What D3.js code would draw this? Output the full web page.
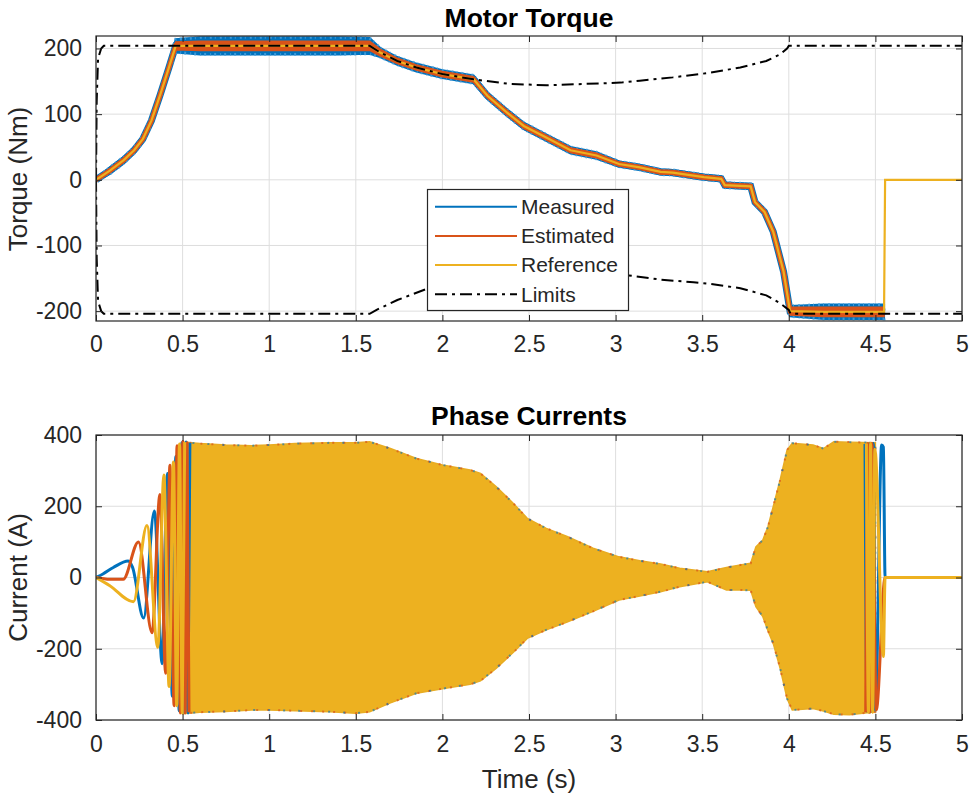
<!DOCTYPE html>
<html><head><meta charset="utf-8">
<script src="https://cdn.jsdelivr.net/npm/d3@7"></script>
<style>
html,body{margin:0;padding:0;background:#fff;}
svg{display:block;font-family:"Liberation Sans",Arial,Helvetica,sans-serif;}
</style></head><body>
<svg id="chart" width="972" height="796"></svg>
<script>
// ---------------- data ----------------
const xTickValues = [0,0.5,1,1.5,2,2.5,3,3.5,4,4.5,5];
const xTickLabels = ["0","0.5","1","1.5","2","2.5","3","3.5","4","4.5","5"];
const torqueTickValues = [-200,-100,0,100,200];
const torqueTickLabels = ["-200","-100","0","100","200"];
const currentTickValues = [-400,-200,0,200,400];
const currentTickLabels = ["-400","-200","0","200","400"];
const seriesNames = ["Measured","Estimated","Reference","Limits"];
const seriesColors = ["#0072BD","#D95319","#EDB120","#000000"];

// Motor torque (Nm)
const torqueTime      = [0,0.08,0.16,0.22,0.27,0.32,0.37,0.42,0.46,0.6,0.8,1.0,1.2,1.4,1.58,1.64,1.74,1.85,2.0,2.18,2.26,2.37,2.47,2.58,2.74,2.89,3.02,3.14,3.26,3.33,3.51,3.61,3.63,3.78,3.805,3.86,3.91,3.97,4.007,4.2,4.4,4.55,4.556,5];
const torqueReference = [0,14,30,45,62,90,129,170,204,204,204,204,204,204,204,194,181,171,161,153,128,103,82,67,45,37,24,19,12,11,4,1.5,-8,-10,-34,-49,-79,-140,-200,-201,-201,-201,0,0];
const estimatedSpread = [1.5,3,3,3,3,3,3,3,6,7,7,7,7,7,7,5,4,4,4,4,3.5,3.5,3.5,3.5,3.5,3.5,3,3,3,3,3,3,3,3,3,3,3,3,6,7,7,7,null,null];
const measuredSpread  = [2,5,5,5,5,5,5,5,10,13,13,13,13,13,12,7,6,6,6,6,5,5,5,5,5,5,4,4,4,4,4,4,4,4,4,4,4,4,8,11,11,11,null,null];
const upperLimitTime  = [0,0.004,0.012,0.03,0.045,1.58,1.64,1.74,1.85,2.0,2.18,2.39,2.6,2.82,3.03,3.14,3.33,3.53,3.72,3.87,3.95,3.99,4.0,5];
const upperLimit      = [0,120,185,200,204,204,194,181,171,161,153,146,144,146,148,151,156,162.5,171,181,191,200,204,204];
const lowerLimitTime  = [0,0.004,0.012,0.03,0.045,1.58,1.62,1.74,1.91,2.1,2.3,2.6,2.85,3.06,3.26,3.45,3.53,3.72,3.87,3.95,4.0,4.01,5];
const lowerLimit      = [0,-120,-185,-200,-204,-204,-198,-183,-166,-155,-148,-144,-144,-145,-152,-156,-158,-165,-176,-188,-198,-204,-204];

// Phase currents (A): envelope of the dense oscillation
const envelopeTime  = [0.47,0.5,0.6,0.75,0.9,1.0,1.15,1.35,1.5,1.58,1.7,1.85,2.0,2.16,2.22,2.31,2.41,2.49,2.6,2.72,2.87,3.02,3.14,3.26,3.37,3.53,3.64,3.72,3.78,3.81,3.85,3.88,3.91,3.95,3.99,4.02,4.14,4.2,4.26,4.35,4.5];
const envelopeUpper = [340,380,376,372,370,372,376,378,378,381,362,334,316,302,292,255,208,166,138,115,82,58,47,38,26,16,28,35,40,86,105,143,199,274,358,377,372,362,381,380,378];
const envelopeLower = [-350,-382,-378,-376,-372,-372,-374,-377,-381,-377,-352,-325,-312,-300,-290,-255,-210,-171,-147,-125,-95,-63,-52,-40,-26,-12,-35,-35,-36,-82,-110,-150,-185,-255,-340,-372,-368,-375,-384,-385,-377];

// individual phase traces (start-up and stop)
const phaseAStartTime = [0,0.04,0.1,0.186,0.21,0.275,0.337,0.382,0.412,0.441,0.461,0.48,0.495,0.508,0.52,0.531,0.542];
const phaseAStart     = [0,10,28,46,30,-114,187,-242,292,-333,340,-374,378,-378,380,-380,378];
const phaseBStartTime = [0,0.08,0.157,0.245,0.324,0.369,0.402,0.427,0.451,0.468,0.487,0.501,0.514,0.526,0.537];
const phaseBStart     = [0,-5,-5,100,-155,233,-269,315,-360,370,-380,382,-380,378,-378];
const phaseCStartTime = [0,0.08,0.216,0.294,0.357,0.392,0.422,0.447,0.466,0.482,0.498,0.512];
const phaseCStart     = [0,-23,-68,146,-196,288,-306,324,-360,375,-380,380];
const phaseAStopTime  = [4.44,4.452,4.464,4.476,4.488,4.5,4.536,4.546,4.556,5];
const phaseAStop      = [375,-375,375,-375,376,-372,372,366,0,0];
const phaseBStopTime  = [4.444,4.456,4.468,4.48,4.505,4.556,5];
const phaseBStop      = [-378,376,-378,376,-372,0,0];
const phaseCStopTime  = [4.448,4.46,4.472,4.484,4.497,4.546,4.556,5];
const phaseCStop      = [376,-378,376,-378,360,-222,0,0];

// ---------------- drawing ----------------
const svg = d3.select("#chart");
const TXT = "#262626";
const x = d3.scaleLinear().domain([0,5]).range([96,962]);
const yT = d3.scaleLinear().domain([-215,219]).range([321,36]);
const yC = d3.scaleLinear().domain([-400,400]).range([720,435]);
const zip = (t,v) => t.map((d,i)=>({t:d,v:v[i]}));

function frame(y, tickVals, id){
  const [y0,y1] = y.range();
  const g = svg.append("g");
  g.append("g").selectAll("line").data(xTickValues).join("line")
    .attr("x1",d=>x(d)).attr("x2",d=>x(d)).attr("y1",y1).attr("y2",y0)
    .attr("stroke","#dedede").attr("stroke-width",1);
  g.append("g").selectAll("line").data(tickVals).join("line")
    .attr("x1",96).attr("x2",962).attr("y1",d=>y(d)).attr("y2",d=>y(d))
    .attr("stroke","#dedede").attr("stroke-width",1);
  svg.append("clipPath").attr("id",id).append("rect")
    .attr("x",96).attr("y",y1).attr("width",866).attr("height",y0-y1);
  return svg.append("g").attr("clip-path",`url(#${id})`);
}
function axes(y, tickVals, tickLabels, pad){
  const [y0,y1] = y.range();
  const style = s => { s.select(".domain").remove();
    s.selectAll(".tick line").attr("stroke",TXT);
    s.selectAll("text").attr("fill",TXT).attr("font-size","23px")
      .attr("font-family",'"Liberation Sans",Arial,sans-serif'); };
  svg.append("g").attr("transform",`translate(0,${y0})`)
    .call(d3.axisBottom(x).tickValues(xTickValues).tickFormat((d,i)=>xTickLabels[i])
      .tickSizeInner(-6).tickSizeOuter(0).tickPadding(pad)).call(style);
  svg.append("g").attr("transform",`translate(0,${y1})`)
    .call(d3.axisTop(x).tickValues(xTickValues).tickFormat(()=>"")
      .tickSizeInner(-6).tickSizeOuter(0)).call(style);
  svg.append("g").attr("transform",`translate(96,0)`)
    .call(d3.axisLeft(y).tickValues(tickVals).tickFormat((d,i)=>tickLabels[i])
      .tickSizeInner(-6).tickSizeOuter(0).tickPadding(14)).call(style);
  svg.append("g").attr("transform",`translate(962,0)`)
    .call(d3.axisRight(y).tickValues(tickVals).tickFormat(()=>"")
      .tickSizeInner(-6).tickSizeOuter(0)).call(style);
  svg.append("rect").attr("x",96).attr("y",y1).attr("width",866).attr("height",y0-y1)
    .attr("fill","none").attr("stroke",TXT).attr("stroke-width",1.2);
}

// ---- top: Motor Torque ----
const topG = frame(yT, torqueTickValues, "clipTop");
const torqueData = torqueTime.map((t,i)=>({t, v:torqueReference[i], m:measuredSpread[i], e:estimatedSpread[i]}));
const band = key => d3.area().defined(d=>d[key]!=null).x(d=>x(d.t)).y0(d=>yT(d.v-d[key])).y1(d=>yT(d.v+d[key]));
const midLine = key => d3.line().defined(d=>d[key]!=null).x(d=>x(d.t)).y(d=>yT(d.v));
topG.append("path").datum(torqueData).attr("d",band("m")).attr("fill",seriesColors[0]).attr("stroke",seriesColors[0]).attr("stroke-width",2);
topG.append("path").datum(torqueData).attr("d",midLine("m")).attr("fill","none").attr("stroke",seriesColors[0]).attr("stroke-width",7);
// ragged edge of the noisy measurement
topG.append("path").datum(torqueData).attr("d",band("m")).attr("fill","none").attr("stroke","#4aa0dc")
  .attr("stroke-width",3).attr("stroke-dasharray","2,3,1,4").attr("opacity",0.8);
topG.append("path").datum(torqueData).attr("d",band("e")).attr("fill",seriesColors[1]).attr("stroke",seriesColors[1]).attr("stroke-width",1.5);
topG.append("path").datum(torqueData).attr("d",midLine("e")).attr("fill","none").attr("stroke",seriesColors[1]).attr("stroke-width",5);
topG.append("path").datum(torqueData).attr("d",d3.line().x(d=>x(d.t)).y(d=>yT(d.v)))
  .attr("fill","none").attr("stroke",seriesColors[2]).attr("stroke-width",2.2);
const limLine = d3.line().x(d=>x(d.t)).y(d=>yT(d.v));
[zip(upperLimitTime,upperLimit), zip(lowerLimitTime,lowerLimit)].forEach(dat=>{
  topG.append("path").datum(dat).attr("d",limLine).attr("fill","none")
    .attr("stroke","#000").attr("stroke-width",2).attr("stroke-dasharray","12,5,3,5");
});
axes(yT, torqueTickValues, torqueTickLabels, 15);

// ---- bottom: Phase Currents ----
const botG = frame(yC, currentTickValues, "clipBot");
const env = envelopeTime.map((t,i)=>({t, hi:envelopeUpper[i], lo:envelopeLower[i]}));
const envArea = d3.area().x(d=>x(d.t)).y0(d=>yC(d.lo)).y1(d=>yC(d.hi));
botG.append("path").datum(env).attr("d",envArea)
  .attr("fill","#EDB120").attr("stroke","#E8AC22").attr("stroke-width",1.5);
// speckled edges (blue / orange peaks peeking out)
botG.append("path").datum(env).attr("d",envArea).attr("fill","none")
  .attr("stroke",seriesColors[1]).attr("stroke-width",2).attr("stroke-dasharray","2,9").attr("opacity",0.7);
botG.append("path").datum(env).attr("d",envArea).attr("fill","none")
  .attr("stroke",seriesColors[0]).attr("stroke-width",2).attr("stroke-dasharray","2,13").attr("stroke-dashoffset",5).attr("opacity",0.6);
const phLine = d3.line().x(d=>x(d.t)).y(d=>yC(d.v)).curve(d3.curveMonotoneX);
const traces = [
  [phaseAStartTime,phaseAStart,0],[phaseBStartTime,phaseBStart,1],[phaseCStartTime,phaseCStart,2],
  [phaseAStopTime,phaseAStop,0],[phaseBStopTime,phaseBStop,1],[phaseCStopTime,phaseCStop,2]
];
traces.forEach(([t,v,c])=>{
  botG.append("path").datum(zip(t,v)).attr("d",phLine).attr("fill","none")
    .attr("stroke",seriesColors[c]).attr("stroke-width",3).attr("stroke-linejoin","round");
});
axes(yC, currentTickValues, currentTickLabels, 16);

// ---- titles & labels ----
const addText = (txt,xx,yy,opt={}) => svg.append("text").text(txt)
  .attr("x",xx).attr("y",yy).attr("text-anchor","middle")
  .attr("font-size",opt.size||"26px").attr("font-weight",opt.bold?"bold":"normal")
  .attr("fill",opt.fill||TXT).attr("transform",opt.rot?`rotate(-90,${xx},${yy})`:null);
addText("Motor Torque",529,26.5,{bold:true,fill:"#000",size:"26.5px"});
addText("Phase Currents",529,425,{bold:true,fill:"#000",size:"26.5px"});
addText("Time (s)",529,788,{});
addText("Torque (Nm)",27,179,{rot:true});
addText("Current (A)",27,577.5,{rot:true});

// ---- legend ----
const lg = svg.append("g");
lg.append("rect").attr("x",427.5).attr("y",189.5).attr("width",201).attr("height",121)
  .attr("fill","#fff").attr("stroke",TXT).attr("stroke-width",1.2);
seriesNames.forEach((n,i)=>{
  const yy = 206.7 + i*29.2;
  lg.append("line").attr("x1",435).attr("x2",517).attr("y1",yy).attr("y2",yy)
    .attr("stroke",seriesColors[i]).attr("stroke-width",2)
    .attr("stroke-dasharray", i===3 ? "12,5,3,5" : null);
  lg.append("text").text(n).attr("x",521).attr("y",yy).attr("dy","0.35em")
    .attr("font-size","21px").attr("fill",TXT);
});
</script>
</body></html>
